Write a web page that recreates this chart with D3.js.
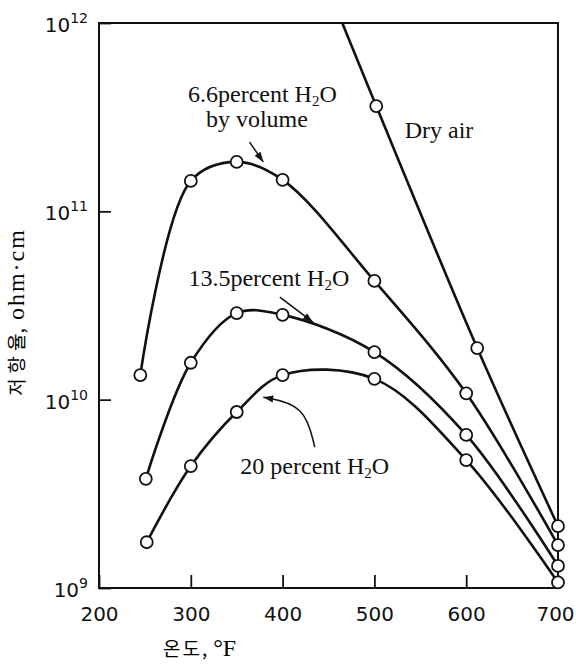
<!DOCTYPE html>
<html>
<head>
<meta charset="utf-8">
<script src="https://cdn.jsdelivr.net/npm/d3@7"></script>
<style>
  body { margin: 0; background: #fff; }
  svg { display: block; }
  .frame { fill: none; stroke: #111; stroke-width: 2; }
  .curve { fill: none; stroke: #111; stroke-width: 2.6; stroke-linejoin: round; }
  .dot { fill: #fff; stroke: #111; stroke-width: 1.8; }
  .axis path { display: none; }
  .axis line { stroke: #111; stroke-width: 1.8; }
  .axis text { font-family: "DejaVu Sans", sans-serif; font-size: 20px; fill: #111; }
  .note { font-family: "Liberation Serif", serif; font-size: 24px; fill: #111; }
  .pointer { fill: none; stroke: #111; stroke-width: 1.5; }
  .ko { font-family: "Noto Sans CJK KR", sans-serif; font-size: 19px; }
  .serif { font-family: "Liberation Serif", serif; font-size: 24px; }
</style>
</head>
<body>
<div id="chart"></div>
<script>
// temperature (deg F) and resistivity (ohm-cm)
var temps66 = [245, 300, 350, 400, 500, 600, 700];
var res66 = [1.35e10, 1.45e11, 1.83e11, 1.47e11, 4.27e10, 1.08e10, 1.69e9];

var temps135 = [251, 300, 350, 400, 500, 600, 700];
var res135 = [3.8e9, 1.57e10, 2.88e10, 2.82e10, 1.79e10, 6.5e9, 1.31e9];

var temps20 = [252, 300, 350, 400, 500, 600, 700];
var res20 = [1.75e9, 4.44e9, 8.6e9, 1.35e10, 1.29e10, 4.78e9, 1.07e9];

// dry air comes in from above the frame, the first point has no circle
var tempsDry = [465, 502, 612, 700];
var resDry = [1.0e12, 3.62e11, 1.88e10, 2.13e9];
var markDry = [false, true, true, true];

var xTicks = [200, 300, 400, 500, 600, 700];
var yTicks = [1e9, 1e10, 1e11, 1e12];
var yExponents = ['9', '10', '11', '12'];

// labels and pointers, anchored in data units
var noteLabels = [
  { pre: '6.6percent H', sub: '2', post: 'O', t: 378, v: 3.81e11, anchor: 'middle' },
  { pre: 'by volume', sub: '', post: '', t: 372, v: 2.81e11, anchor: 'middle' },
  { pre: 'Dry air', sub: '', post: '', t: 533, v: 2.45e11, anchor: 'start' },
  { pre: '13.5percent H', sub: '2', post: 'O', t: 385, v: 4.02e10, anchor: 'middle' },
  { pre: '20 percent H', sub: '2', post: 'O', t: 435, v: 4.03e9, anchor: 'middle' }
];
var pointers = [
  [[364, 2.33e11], [379, 1.83e11]],
  [[397, 3.5e10], [433, 2.58e10]],
  [[435, 5.6e9], [424, 9.4e9], [379, 1.03e10]]
];

var margin = { top: 23, right: 18, bottom: 76, left: 99 };
var width = 576 - margin.left - margin.right;
var height = 664 - margin.top - margin.bottom;

var x = d3.scaleLinear().domain([200, 700]).range([0, width]);
var y = d3.scaleLog().domain([1e9, 1e12]).range([height, 0]);

var svg = d3.select('#chart').append('svg')
  .attr('width', 576)
  .attr('height', 664);

var defs = svg.append('defs');
defs.append('clipPath').attr('id', 'plot')
  .append('rect').attr('width', width).attr('height', height);
defs.append('marker')
  .attr('id', 'head')
  .attr('markerUnits', 'userSpaceOnUse')
  .attr('markerWidth', 11).attr('markerHeight', 8)
  .attr('refX', 10).attr('refY', 4)
  .attr('orient', 'auto')
  .append('path').attr('d', 'M0,0.5L10,4L0,7.5Z').attr('fill', '#111');

var g = svg.append('g').attr('transform', 'translate(' + margin.left + ',' + margin.top + ')');

//axes, ticks point inward
var xAxis = d3.axisBottom(x).tickValues(xTicks).tickSizeInner(-13).tickSizeOuter(0).tickPadding(19);
g.append('g').attr('class', 'x axis')
  .attr('transform', 'translate(0,' + height + ')')
  .call(xAxis);
// last label sits at the page edge, nudge it in
g.selectAll('.x.axis .tick text').filter(function(d) { return d === 700; }).attr('dx', -3);

var yAxis = d3.axisLeft(y).tickValues(yTicks).tickSizeInner(-12).tickSizeOuter(0).tickPadding(11)
  .tickFormat(function() { return ''; });
g.append('g').attr('class', 'y axis').call(yAxis);

g.selectAll('.y.axis .tick text').each(function(d, i) {
  var t = d3.select(this).attr('dy', '0.42em');
  t.append('tspan').text('10');
  t.append('tspan').attr('dy', -9).style('font-size', '14px').text(yExponents[i]);
});

g.append('rect').attr('class', 'frame').attr('width', width).attr('height', height);

//series
var line = d3.line()
  .x(function(d) { return x(d.t); })
  .y(function(d) { return y(d.v); })
  .curve(d3.curveCatmullRom.alpha(0.5));

function toPoints(ts, vs) {
  return ts.map(function(t, i) { return { t: t, v: vs[i] }; });
}

var series = [
  toPoints(temps66, res66),
  toPoints(temps135, res135),
  toPoints(temps20, res20),
  toPoints(tempsDry, resDry)
];

var plot = g.append('g').attr('clip-path', 'url(#plot)');
plot.selectAll('path.curve').data(series).enter().append('path')
  .attr('class', 'curve')
  .attr('d', line);

var dots = series.slice(0, 3).reduce(function(a, s) { return a.concat(s); }, [])
  .concat(series[3].filter(function(d, i) { return markDry[i]; }));

g.selectAll('circle.dot').data(dots).enter().append('circle')
  .attr('class', 'dot')
  .attr('cx', function(d) { return x(d.t); })
  .attr('cy', function(d) { return y(d.v); })
  .attr('r', 6);

//annotations
noteLabels.forEach(function(n) {
  var t = g.append('text').attr('class', 'note')
    .attr('x', x(n.t)).attr('y', y(n.v))
    .attr('text-anchor', n.anchor);
  t.append('tspan').text(n.pre);
  if (n.sub) {
    t.append('tspan').attr('dy', 4).style('font-size', '15px').text(n.sub);
    t.append('tspan').attr('dy', -4).text(n.post);
  }
});

var pointerLine = d3.line()
  .x(function(d) { return x(d[0]); })
  .y(function(d) { return y(d[1]); })
  .curve(d3.curveBasis);

g.selectAll('path.pointer').data(pointers).enter().append('path')
  .attr('class', 'pointer')
  .attr('d', pointerLine)
  .attr('marker-end', 'url(#head)');

//axis titles
var xt = svg.append('text').attr('x', 163).attr('y', 656);
xt.append('tspan').attr('class', 'ko').style('letter-spacing', '2px').text('온도');
xt.append('tspan').attr('class', 'ko').text(',');
xt.append('tspan').attr('class', 'serif').text(' °F');

var yt = svg.append('text')
  .attr('transform', 'translate(24,312) rotate(-90)')
  .attr('text-anchor', 'middle');
yt.append('tspan').attr('class', 'ko').style('letter-spacing', '5px').text('저항율');
yt.append('tspan').attr('class', 'ko').attr('dx', -5).text(',');
yt.append('tspan').attr('class', 'serif').style('letter-spacing', '2px').text(' ohm·cm');
</script>
</body>
</html>
